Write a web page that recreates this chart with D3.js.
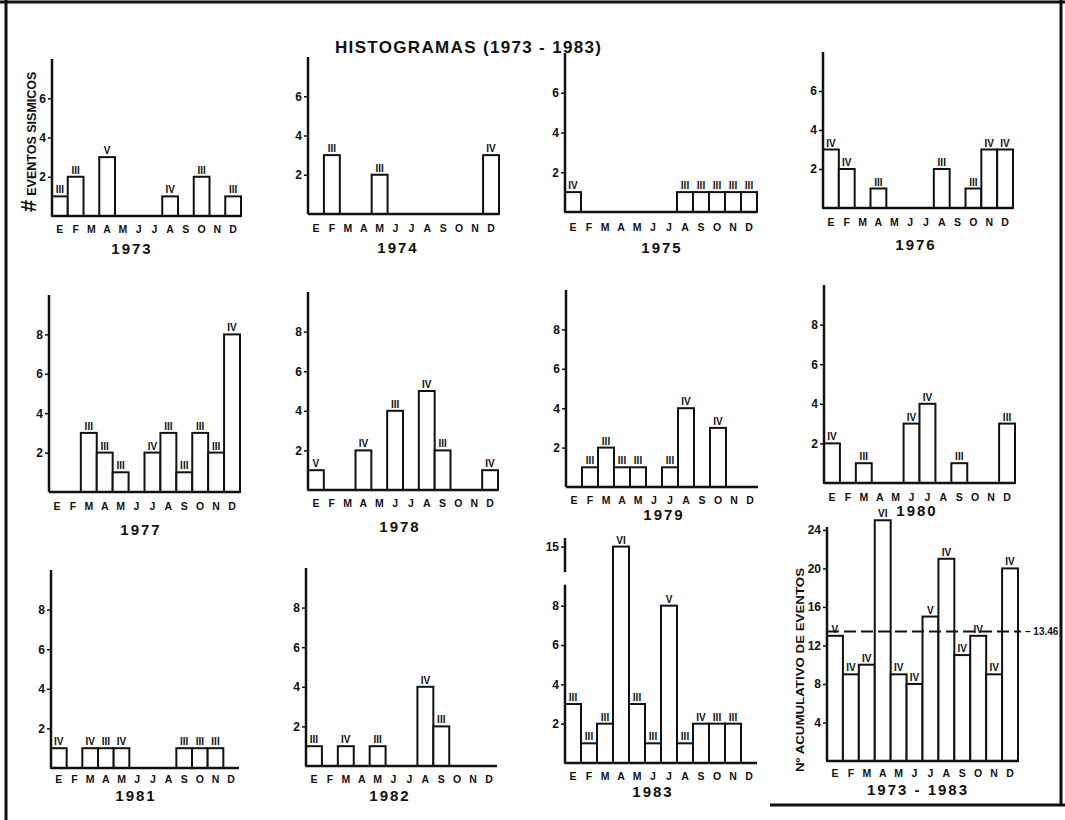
<!DOCTYPE html>
<html>
<head>
<meta charset="utf-8">
<script src="https://cdn.jsdelivr.net/npm/d3@7"></script>
<style>
  body { margin: 0; background: #fff; }
  svg text { font-family: "Liberation Sans", Arial, sans-serif; fill: #111; }
</style>
</head>
<body>
<svg width="1065" height="820"></svg>
<script>
const svg = d3.select("svg");

// months (Spanish initials)
const months = ["E", "F", "M", "A", "M", "J", "J", "A", "S", "O", "N", "D"];

// monthly counts of seismic events, and intensity labels above each bar
const v1973 = [1, 2, 0, 3, 0, 0, 0, 1, 0, 2, 0, 1];
const r1973 = ["III", "III", "", "V", "", "", "", "IV", "", "III", "", "III"];
const v1974 = [0, 3, 0, 0, 2, 0, 0, 0, 0, 0, 0, 3];
const r1974 = ["", "III", "", "", "III", "", "", "", "", "", "", "IV"];
const v1975 = [1, 0, 0, 0, 0, 0, 0, 1, 1, 1, 1, 1];
const r1975 = ["IV", "", "", "", "", "", "", "III", "III", "III", "III", "III"];
const v1976 = [3, 2, 0, 1, 0, 0, 0, 2, 0, 1, 3, 3];
const r1976 = ["IV", "IV", "", "III", "", "", "", "III", "", "III", "IV", "IV"];
const v1977 = [0, 0, 3, 2, 1, 0, 2, 3, 1, 3, 2, 8];
const r1977 = ["", "", "III", "III", "III", "", "IV", "III", "III", "III", "III", "IV"];
const v1978 = [1, 0, 0, 2, 0, 4, 0, 5, 2, 0, 0, 1];
const r1978 = ["V", "", "", "IV", "", "III", "", "IV", "III", "", "", "IV"];
const v1979 = [0, 1, 2, 1, 1, 0, 1, 4, 0, 3, 0, 0];
const r1979 = ["", "III", "III", "III", "III", "", "III", "IV", "", "IV", "", ""];
const v1980 = [2, 0, 1, 0, 0, 3, 4, 0, 1, 0, 0, 3];
const r1980 = ["IV", "", "III", "", "", "IV", "IV", "", "III", "", "", "III"];
const v1981 = [1, 0, 1, 1, 1, 0, 0, 0, 1, 1, 1, 0];
const r1981 = ["IV", "", "IV", "III", "IV", "", "", "", "III", "III", "III", ""];
const v1982 = [1, 0, 1, 0, 1, 0, 0, 4, 2, 0, 0, 0];
const r1982 = ["III", "", "IV", "", "III", "", "", "IV", "III", "", "", ""];
const v1983 = [3, 1, 2, 15, 3, 1, 8, 1, 2, 2, 2, 0];
const r1983 = ["III", "III", "III", "VI", "III", "III", "V", "III", "IV", "III", "III", ""];
const vTotal = [13, 9, 10, 25, 9, 8, 15, 21, 11, 13, 9, 20];
const rTotal = ["V", "IV", "IV", "VI", "IV", "IV", "V", "IV", "IV", "IV", "IV", "IV"];
const meanTotal = 13.46;

const ticksSmall = [2, 4, 6];
const ticksMid = [2, 4, 6, 8];
const ticks1983 = [2, 4, 6, 8, 15];
const ticksTotal = [4, 8, 12, 16, 20, 24];

// panel placement on the page
const panels = [
  { year: "1973", vals: v1973, roms: r1973, x0: 52, x1: 241, base: 216, top: 59, ymax: 8, ticks: ticksSmall, labelY: 229, yearX: 132, yearY: 249 },
  { year: "1974", vals: v1974, roms: r1974, x0: 308, x1: 499, base: 214, top: 57, ymax: 8, ticks: ticksSmall, labelY: 228, yearX: 398, yearY: 248 },
  { year: "1975", vals: v1975, roms: r1975, x0: 565, x1: 757, base: 212, top: 53, ymax: 8, ticks: ticksSmall, labelY: 227, yearX: 662, yearY: 248 },
  { year: "1976", vals: v1976, roms: r1976, x0: 823, x1: 1013, base: 208, top: 52, ymax: 8, ticks: ticksSmall, labelY: 222, yearX: 916, yearY: 245 },
  { year: "1977", vals: v1977, roms: r1977, x0: 49, x1: 240, base: 492, top: 295, ymax: 10, ticks: ticksMid, labelY: 506, yearX: 141, yearY: 530 },
  { year: "1978", vals: v1978, roms: r1978, x0: 308, x1: 498, base: 490, top: 292, ymax: 10, ticks: ticksMid, labelY: 503, yearX: 400, yearY: 527 },
  { year: "1979", vals: v1979, roms: r1979, x0: 566, x1: 758, base: 487, top: 290, ymax: 10, ticks: ticksMid, labelY: 500, yearX: 664, yearY: 515 },
  { year: "1980", vals: v1980, roms: r1980, x0: 824, x1: 1015, base: 483, top: 285, ymax: 10, ticks: ticksMid, labelY: 497, yearX: 917, yearY: 511 },
  { year: "1981", vals: v1981, roms: r1981, x0: 51, x1: 239, base: 768, top: 570, ymax: 10, ticks: ticksMid, labelY: 779, yearX: 136, yearY: 796 },
  { year: "1982", vals: v1982, roms: r1982, x0: 306, x1: 497, base: 766, top: 568, ymax: 10, ticks: ticksMid, labelY: 779, yearX: 390, yearY: 796 },
  { year: "1983", vals: v1983, roms: r1983, x0: 565, x1: 757, base: 763, top: 538, ymax: 16.3, ticks: ticks1983, labelY: 776, yearX: 653, yearY: 792, broken: true },
  { year: "1973 - 1983", vals: vTotal, roms: rTotal, x0: 827, x1: 1018, base: 761, top: 527, ymax: 24.3, ticks: ticksTotal, labelY: 773, yearX: 918, yearY: 790, mean: meanTotal }
];

// page frame (scan border)
svg.append("line").attr("x1", 6).attr("x2", 6).attr("y1", 0).attr("y2", 820)
  .attr("stroke", "#111").attr("stroke-width", 3);
svg.append("line").attr("x1", 0).attr("x2", 1065).attr("y1", 2).attr("y2", 2)
  .attr("stroke", "#111").attr("stroke-width", 3);
svg.append("line").attr("x1", 1061).attr("x2", 1061).attr("y1", 0).attr("y2", 805)
  .attr("stroke", "#111").attr("stroke-width", 3);
svg.append("line").attr("x1", 770).attr("x2", 1065).attr("y1", 805).attr("y2", 805)
  .attr("stroke", "#111").attr("stroke-width", 3);

// title
svg.append("text")
  .attr("x", 335).attr("y", 53)
  .attr("textLength", 266).attr("lengthAdjust", "spacing")
  .style("font-size", "17px")
  .style("font-weight", "bold")
  .text("HISTOGRAMAS (1973 - 1983)");

panels.forEach(p => {
  const g = svg.append("g");
  const x = d3.scaleBand().domain(d3.range(12)).range([p.x0, p.x1]).padding(0);

  let y;
  if (p.broken) {
    y = d3.scaleLinear().domain([0, 9, 16]).range([p.base, p.base - 177, p.base - 223]);
  } else {
    y = d3.scaleLinear().domain([0, p.ymax]).range([p.base, p.top]);
  }

  // bars
  const data = p.vals.map((v, i) => ({ i, v, r: p.roms[i] })).filter(d => d.v > 0);
  g.selectAll("rect")
    .data(data)
    .enter()
    .append("rect")
    .attr("x", d => x(d.i))
    .attr("y", d => y(d.v))
    .attr("width", x.bandwidth())
    .attr("height", d => y(0) - y(d.v))
    .attr("fill", "#fff")
    .attr("stroke", "#111")
    .attr("stroke-width", 2);

  // intensity labels
  g.selectAll(".rom")
    .data(data)
    .enter()
    .append("text")
    .attr("class", "rom")
    .attr("x", d => x(d.i) + x.bandwidth() / 2)
    .attr("y", d => y(d.v) - 3)
    .attr("text-anchor", "middle")
    .style("font-size", "10px")
    .style("font-weight", "bold")
    .text(d => d.r);

  // y axis
  const axis = g.append("g")
    .attr("transform", `translate(${p.x0},0)`)
    .call(d3.axisLeft(y).tickValues(p.ticks).tickSize(4).tickPadding(2));
  axis.select(".domain").remove();
  axis.selectAll("line").attr("stroke", "#111").attr("stroke-width", 1.5);
  axis.selectAll("text")
    .attr("fill", "#111")
    .style("font-family", "Liberation Sans, Arial, sans-serif")
    .style("font-size", "12px")
    .style("font-weight", "bold");

  if (p.broken) {
    g.append("line").attr("x1", p.x0).attr("x2", p.x0)
      .attr("y1", y(0)).attr("y2", y(9.2))
      .attr("stroke", "#111").attr("stroke-width", 2.5);
    g.append("line").attr("x1", p.x0).attr("x2", p.x0)
      .attr("y1", y(11.1)).attr("y2", y(p.ymax))
      .attr("stroke", "#111").attr("stroke-width", 2.5);
  } else {
    g.append("line").attr("x1", p.x0).attr("x2", p.x0)
      .attr("y1", y(0)).attr("y2", y(p.ymax))
      .attr("stroke", "#111").attr("stroke-width", 2.5);
  }

  // baseline
  g.append("line")
    .attr("x1", p.x0).attr("x2", p.x1)
    .attr("y1", y(0)).attr("y2", y(0))
    .attr("stroke", "#111").attr("stroke-width", 2.5);

  // month labels
  g.selectAll(".month")
    .data(months)
    .enter()
    .append("text")
    .attr("class", "month")
    .attr("x", (d, i) => x(i) + x.bandwidth() / 2)
    .attr("y", p.labelY)
    .attr("dy", "0.35em")
    .attr("text-anchor", "middle")
    .style("font-size", "10.5px")
    .style("font-weight", "bold")
    .text(d => d);

  // year label
  g.append("text")
    .attr("x", p.yearX)
    .attr("y", p.yearY)
    .attr("dy", "0.35em")
    .attr("text-anchor", "middle")
    .style("font-size", "15px")
    .style("font-weight", "bold")
    .style("letter-spacing", "2px")
    .text(p.year);

  // mean line for the cumulative panel
  if (p.mean) {
    g.append("line")
      .attr("x1", p.x0).attr("x2", p.x1 + 3)
      .attr("y1", y(p.mean)).attr("y2", y(p.mean))
      .attr("stroke", "#111").attr("stroke-width", 2)
      .attr("stroke-dasharray", "12,5");
    g.append("text")
      .attr("x", p.x1 + 7)
      .attr("y", y(p.mean))
      .attr("dy", "0.35em")
      .style("font-size", "10px")
      .style("font-weight", "bold")
      .text("– 13.46");
  }
});

// y labels
svg.append("text")
  .attr("transform", "translate(36,212) rotate(-90)")
  .style("font-weight", "bold")
  .call(t => {
    t.append("tspan").style("font-size", "22px").text("#");
    t.append("tspan").attr("dx", 4).style("font-size", "12.5px").text("EVENTOS SISMICOS");
  });

svg.append("text")
  .attr("transform", "translate(804,772) rotate(-90)")
  .attr("textLength", 204).attr("lengthAdjust", "spacingAndGlyphs")
  .style("font-size", "11.5px")
  .style("font-weight", "bold")
  .text("Nº ACUMULATIVO DE EVENTOS");
</script>
</body>
</html>
